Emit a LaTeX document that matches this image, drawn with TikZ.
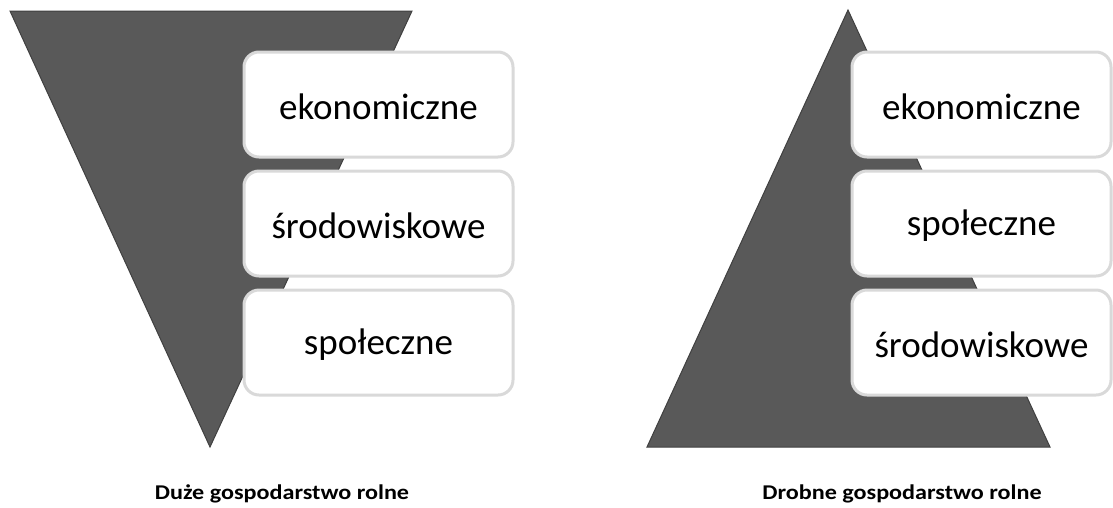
\documentclass[tikz,border=0pt]{standalone}
\usepackage{fontspec}
\setmainfont{Carlito}
\newfontfamily\capfont[FakeStretch=1.15]{Carlito}
\begin{document}
\begin{tikzpicture}[x=1pt,y=-1pt,
  tri/.style={fill=black!65,draw=black!75,line width=1pt,line join=miter},
  catbox/.style={draw=black!15,line width=3pt,fill=white,rounded corners=15pt},
  boxtext/.style={inner sep=0pt,font=\fontsize{37}{42}\selectfont,yshift=-2pt},
  caption/.style={font=\capfont\bfseries\fontsize{21}{24}\selectfont,inner sep=0pt,anchor=base}]
\useasboundingbox (0,0) rectangle (1113,507);
% left inverted triangle
\coordinate (la) at (10,11);
\coordinate (lb) at (412,11);
\coordinate (lc) at (210,447);
\draw[tri] (la) -- (lb) -- (lc) -- cycle;
% right triangle
\coordinate (ra) at (848,10);
\coordinate (rb) at (1050,447);
\coordinate (rc) at (647,447);
\draw[tri] (ra) -- (rb) -- (rc) -- cycle;
% left boxes
\draw[catbox] (244,52) rectangle node[boxtext] (l1) {ekonomiczne} (513,157);
\draw[catbox] (244,171) rectangle node[boxtext] (l2) {środowiskowe} (513,276);
\draw[catbox] (244,290) rectangle node[boxtext] (l3) {społeczne} (513,395);
% right boxes
\draw[catbox] (852,52) rectangle node[boxtext] (r1) {ekonomiczne} (1111,157);
\draw[catbox] (852,171) rectangle node[boxtext] (r2) {społeczne} (1111,276);
\draw[catbox] (852,290) rectangle node[boxtext] (r3) {środowiskowe} (1111,395);
% captions
\node[caption] (capl) at (282,499) {Duże gospodarstwo rolne};
\node[caption] (capr) at (902,499) {Drobne gospodarstwo rolne};
\end{tikzpicture}
\end{document}
